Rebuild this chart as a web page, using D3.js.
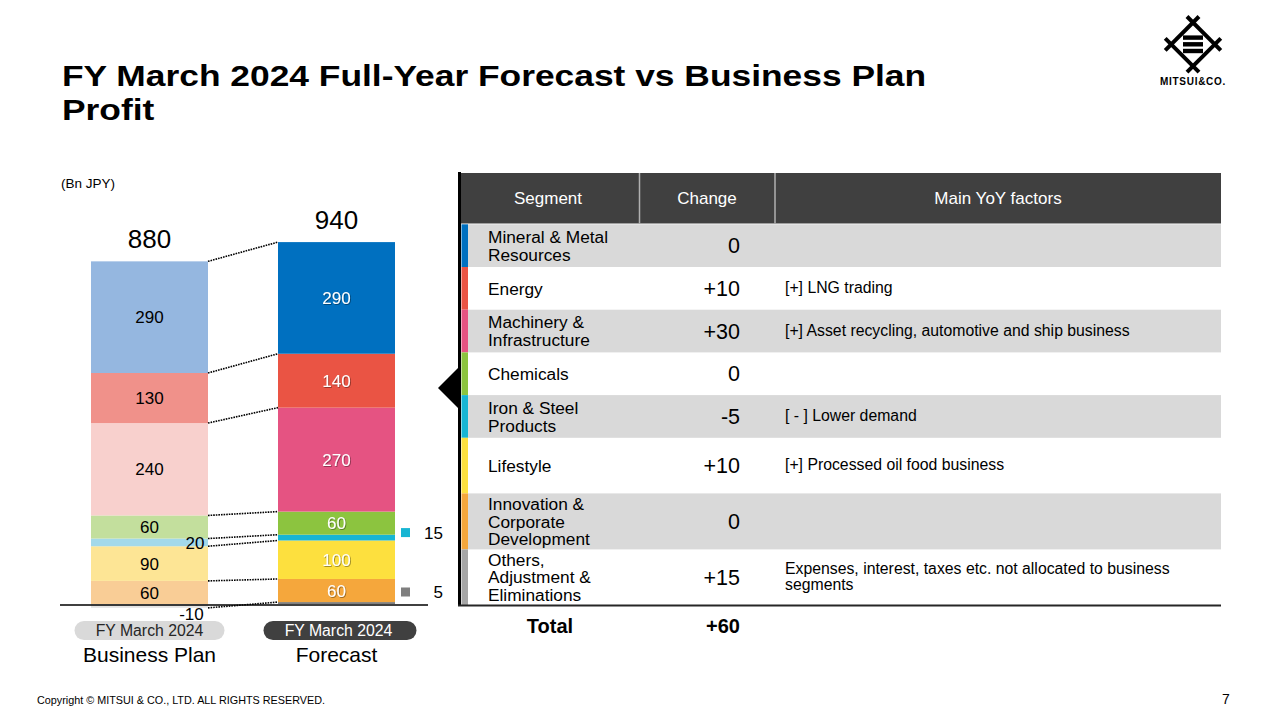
<!DOCTYPE html>
<html>
<head>
<meta charset="utf-8">
<script src="https://cdn.jsdelivr.net/npm/d3@7"></script>
<style>
  body{margin:0;background:#fff;}
  svg{display:block;font-family:"Liberation Sans",Arial,sans-serif;}
</style>
</head>
<body>
<svg id="chart" width="1280" height="720"></svg>
<script>
// ---- data (table order, top to bottom) ----
var segments = ["Mineral & Metal Resources","Energy","Machinery & Infrastructure","Chemicals",
  "Iron & Steel Products","Lifestyle","Innovation & Corporate Development","Others, Adjustment & Eliminations"];
var segmentLines = [["Mineral & Metal","Resources"],["Energy"],["Machinery &","Infrastructure"],["Chemicals"],
  ["Iron & Steel","Products"],["Lifestyle"],["Innovation &","Corporate","Development"],["Others,","Adjustment &","Eliminations"]];
var planValues = [290,130,240,60,20,90,60,-10];
var forecastValues = [290,140,270,60,15,100,60,5];
var factors = [[""],["[+] LNG trading"],["[+] Asset recycling, automotive and ship business"],[""],
  ["[ - ] Lower demand"],["[+] Processed oil food business"],[""],
  ["Expenses, interest, taxes etc. not allocated to business","segments"]];
var planColors = ["#95b7e0","#f0918a","#f8d0cd","#c3df9d","#a3d9ea","#fde595","#f9cd96","#e4e4e4"];
var forecastColors = ["#0070c0","#ea5444","#e55382","#8cc43f","#17b5d3","#fde03e","#f5a73c","#7f7f7f"];
var columns = ["plan","forecast"];
var pillLabels = ["FY March 2024","FY March 2024"];
var barNames = ["Business Plan","Forecast"];

var svg = d3.select("#chart");

// title etc
svg.append("text").attr("transform","translate(62,86) scale(1.22,1)")
  .attr("font-size",29).attr("font-weight","bold").attr("fill","#000")
  .text("FY March 2024 Full-Year Forecast vs Business Plan");
svg.append("text").attr("transform","translate(62,120) scale(1.22,1)")
  .attr("font-size",29).attr("font-weight","bold").attr("fill","#000")
  .text("Profit");
svg.append("text").attr("x",61).attr("y",188).attr("font-size",13.5).text("(Bn JPY)");
svg.append("text").attr("x",37).attr("y",704).attr("font-size",10.8).text("Copyright \u00a9 MITSUI & CO., LTD. ALL RIGHTS RESERVED.");
svg.append("text").attr("x",1226).attr("y",704).attr("font-size",14).attr("text-anchor","middle").text("7");

// logo
var logo = svg.append("g").attr("stroke","#000").attr("stroke-width",4).attr("fill","none");
var cx = 1193, cy = 44.3, r = 21.8, ext = 6;
[[[-r,0],[0,-r]],[[0,-r],[r,0]],[[r,0],[0,r]],[[0,r],[-r,0]]].forEach(function(e){
  var dx = Math.sign(e[1][0]-e[0][0]), dy = Math.sign(e[1][1]-e[0][1]);
  logo.append("line")
    .attr("x1",cx+e[0][0]-dx*ext).attr("y1",cy+e[0][1]-dy*ext)
    .attr("x2",cx+e[1][0]+dx*ext).attr("y2",cy+e[1][1]+dy*ext);
});
[-6.7,0,6.7].forEach(function(o){
  svg.append("rect").attr("x",cx-10).attr("y",cy+o-2.2).attr("width",20).attr("height",4.4).attr("fill","#000");
});
svg.append("text").attr("x",cx).attr("y",84.5).attr("text-anchor","middle").attr("font-size",10)
  .attr("font-weight","bold").attr("letter-spacing",0.7).text("MITSUI&CO.");

// ---- stacked bars ----
var keys = segments.slice().reverse();
var rows = columns.map(function(c){
  var o = {col:c};
  segments.forEach(function(s,i){ o[s] = c=="plan" ? planValues[i] : forecastValues[i]; });
  return o;
});
var series = d3.stack().keys(keys).offset(d3.stackOffsetDiverging)(rows);

var x = d3.scalePoint().domain(columns).range([149.5,336.5]);
var barW = 117;
var y = d3.scaleLinear().domain([0,940]).range([604,242.1]);

var defs = svg.append("defs");
defs.append("filter").attr("id","sh").attr("x","-20%").attr("y","-20%").attr("width","140%").attr("height","140%")
  .append("feDropShadow").attr("dx",0.8).attr("dy",0.8).attr("stdDeviation",0.6)
  .attr("flood-color","#000").attr("flood-opacity",0.45);

function segInfo(key, d){
  var i = segments.indexOf(key);
  var isPlan = d.data.col=="plan";
  var v = isPlan ? planValues[i] : forecastValues[i];
  return {i:i, isPlan:isPlan, v:v, end: v<0 ? d[0] : d[1]};
}

var barG = svg.append("g");
series.forEach(function(s){
  s.forEach(function(d){
    var info = segInfo(s.key,d);
    barG.append("rect")
      .attr("x",x(d.data.col)-barW/2)
      .attr("y",y(Math.max(d[0],d[1])))
      .attr("width",barW)
      .attr("height",Math.abs(y(d[0])-y(d[1])))
      .attr("fill",info.isPlan ? planColors[info.i] : forecastColors[info.i]);
  });
});

// axis baseline
svg.append("line").attr("x1",60).attr("x2",428).attr("y1",y(0)+1).attr("y2",y(0)+1)
  .attr("stroke","#000").attr("stroke-width",1.3);

// connectors
var conG = svg.append("g").attr("stroke","#000").attr("stroke-width",1.6).attr("stroke-dasharray","1.6,1");
series.forEach(function(s){
  var a = segInfo(s.key,s[0]), b = segInfo(s.key,s[1]);
  conG.append("line")
    .attr("x1",x("plan")+barW/2).attr("y1",y(a.end))
    .attr("x2",x("forecast")-barW/2).attr("y2",y(b.end));
});

// labels
var labG = svg.append("g").attr("font-size",17).attr("text-anchor","middle");
series.forEach(function(s){
  s.forEach(function(d){
    var info = segInfo(s.key,d);
    var h = Math.abs(y(d[0])-y(d[1]));
    var mid = (y(d[0])+y(d[1]))/2;
    var cxb = x(d.data.col);
    if(info.isPlan){
      var t = labG.append("text").attr("fill","#000").attr("dy","0.36em").text(info.v);
      if(info.v<0) t.attr("x",cxb+42).attr("y",y(d[0])+6.5);
      else if(h<12) t.attr("x",cxb+barW/2-13).attr("y",mid);
      else t.attr("x",cxb).attr("y",mid);
    } else if(h>=12){
      labG.append("text").attr("fill","#fff").attr("filter","url(#sh)").attr("dy","0.36em")
        .attr("x",cxb).attr("y",mid).text(info.v);
    } else {
      var ly = Math.min(mid-5, y(0)-12);
      svg.append("rect").attr("x",401).attr("y",ly-4.5).attr("width",9).attr("height",9)
        .attr("fill",forecastColors[info.i]);
      svg.append("text").attr("x",443).attr("y",ly).attr("dy","0.36em").attr("text-anchor","end")
        .attr("font-size",17).text(info.v);
    }
  });
});

// totals
columns.forEach(function(c,ci){
  var vals = ci==0 ? planValues : forecastValues;
  var tot = d3.sum(vals);
  var top = d3.sum(vals.filter(function(v){return v>0;}));
  svg.append("text").attr("x",x(c)).attr("y",y(top)-13).attr("text-anchor","middle")
    .attr("font-size",26).text(tot);
  svg.append("rect").attr("x",x(c)-75+(ci?2:0)).attr("y",621).attr("width",ci?153:150).attr("height",19)
    .attr("rx",9.5).attr("fill",ci ? "#404040" : "#d9d9d9");
  svg.append("text").attr("x",x(c)+(ci?2:0)).attr("y",636).attr("text-anchor","middle").attr("font-size",15.8)
    .attr("fill",ci ? "#fff" : "#262626").text(pillLabels[ci]);
  svg.append("text").attr("x",x(c)).attr("y",662).attr("text-anchor","middle").attr("font-size",21)
    .text(barNames[ci]);
});

// ---- table ----
var tL = 461, tR = 1221, hTop = 173, hBot = 223.5;
var rowH = [42.7,42.7,42.7,42.7,42.7,55.6,56,55.7];
var rowTop = [hBot+0.8];
rowH.forEach(function(h,i){ rowTop.push(rowTop[i]+h); });
var tBot = rowTop[rowTop.length-1];

svg.append("rect").attr("x",tL).attr("y",hTop).attr("width",tR-tL).attr("height",hBot-hTop).attr("fill","#404040");
[639.5,775].forEach(function(xx){
  svg.append("line").attr("x1",xx).attr("x2",xx).attr("y1",hTop).attr("y2",hBot)
    .attr("stroke","#b0b0b0").attr("stroke-width",1.5);
});
var hdr = [["Segment",548],["Change",707],["Main YoY factors",998]];
hdr.forEach(function(h){
  svg.append("text").attr("x",h[1]).attr("y",(hTop+hBot)/2).attr("dy","0.36em").attr("text-anchor","middle")
    .attr("fill","#fff").attr("font-size",17).text(h[0]);
});

var change = segments.map(function(s,i){ return forecastValues[i]-planValues[i]; });
function signed(v){ return v>0 ? "+"+v : String(v); }

segments.forEach(function(s,i){
  var t0 = rowTop[i], h = rowH[i], mid = t0+h/2;
  if(i%2==0) svg.append("rect").attr("x",468).attr("y",t0).attr("width",tR-468).attr("height",h).attr("fill","#d9d9d9");
  svg.append("rect").attr("x",461.5).attr("y",t0).attr("width",6.5).attr("height",h)
    .attr("fill", i==segments.length-1 ? "#a6a6a6" : forecastColors[i]);
  var lines = segmentLines[i], lh = 17.7;
  var st = svg.append("text").attr("font-size",17.3);
  lines.forEach(function(l,j){
    st.append("tspan").attr("x",488).attr("y",mid+(j-(lines.length-1)/2)*lh).attr("dy","0.36em").text(l);
  });
  svg.append("text").attr("x",740).attr("y",mid).attr("dy","0.36em").attr("text-anchor","end")
    .attr("font-size",21.5).text(signed(change[i]));
  var fl = factors[i], flh = 16.5;
  var ft = svg.append("text").attr("font-size",15.8);
  fl.forEach(function(l,j){
    ft.append("tspan").attr("x",785).attr("y",mid-1+(j-(fl.length-1)/2)*flh).attr("dy","0.36em").text(l);
  });
});

// left border and bottom rule
svg.append("line").attr("x1",459.5).attr("x2",459.5).attr("y1",172).attr("y2",tBot+1)
  .attr("stroke","#000").attr("stroke-width",3);
svg.append("line").attr("x1",458).attr("x2",tR).attr("y1",tBot+0.5).attr("y2",tBot+0.5)
  .attr("stroke","#262626").attr("stroke-width",2);
svg.append("path").attr("d","M438,388L459,367L459,409Z").attr("fill","#000");

svg.append("text").attr("x",550).attr("y",626).attr("dy","0.36em").attr("text-anchor","middle")
  .attr("font-size",20).attr("font-weight","bold").text("Total");
svg.append("text").attr("x",740).attr("y",626).attr("dy","0.36em").attr("text-anchor","end")
  .attr("font-size",20).attr("font-weight","bold").text(signed(d3.sum(forecastValues)-d3.sum(planValues)));
</script>
</body>
</html>
